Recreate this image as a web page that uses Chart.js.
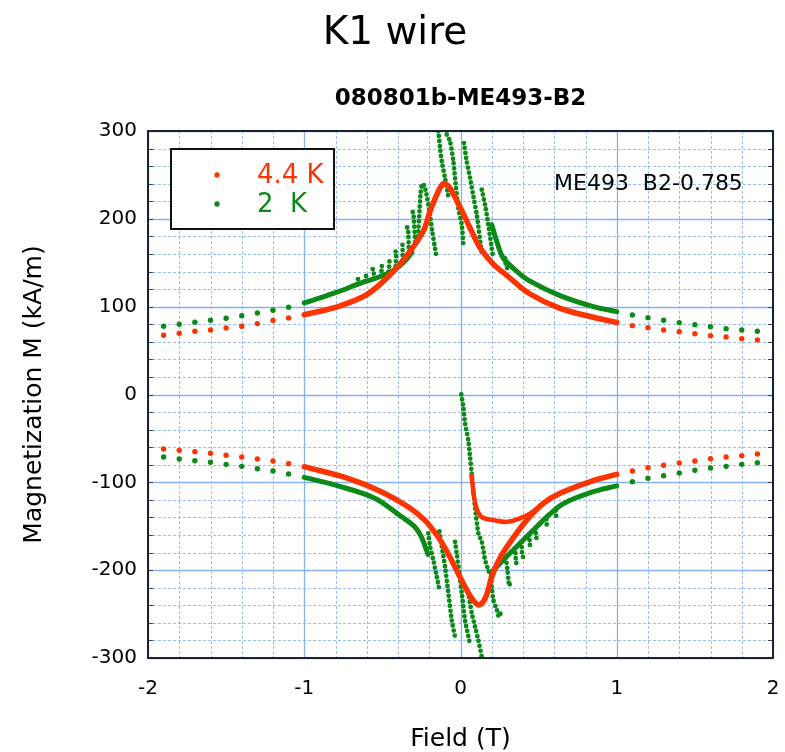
<!DOCTYPE html>
<html>
<head>
<meta charset="utf-8">
<title>K1 wire</title>
<script src="https://cdn.jsdelivr.net/npm/chart.js@4.4.1/dist/chart.umd.min.js"></script>
<style>
  html, body { margin: 0; padding: 0; background: #fff; }
  #wrap { width: 785px; height: 752px; }
</style>
</head>
<body>
<div id="wrap"><canvas id="chart" width="785" height="752"></canvas></div>
<script>
// field values of the sparse points outside +-1 T
const fieldLeft = [-1.9, -1.8, -1.7, -1.6, -1.5, -1.4, -1.3, -1.2, -1.1];
const fieldRight = [1.1, 1.2, 1.3, 1.4, 1.5, 1.6, 1.7, 1.8, 1.9];

// 4.4 K sparse points (kA/m)
const red44UpperLeft = [67.4, 69.7, 72.0, 73.5, 75.7, 77.7, 80.7, 84.2, 87.2];
const red44UpperRight = [78.4, 76.1, 73.5, 71.5, 69.2, 67.0, 65.5, 63.6, 62.1];
const red44LowerLeft = [-62.0, -63.6, -65.1, -66.9, -69.2, -71.2, -73.5, -75.7, -78.8];
const red44LowerRight = [-87.1, -83.4, -80.6, -78.0, -75.7, -73.1, -71.2, -69.7, -67.8];

// 2 K sparse points (kA/m)
const green2UpperLeft = [77.7, 80.0, 82.2, 84.5, 86.8, 89.8, 92.8, 95.9, 99.3];
const green2UpperRight = [90.5, 87.5, 84.5, 81.8, 79.5, 77.2, 75.0, 73.5, 72.0];
const green2LowerLeft = [-71.2, -73.5, -75.4, -77.2, -79.5, -81.8, -84.5, -87.1, -90.5];
const green2LowerRight = [-99.3, -95.4, -92.5, -89.4, -86.3, -83.7, -81.8, -79.5, -77.7];

// 4.4 K dense sweeps [field T, M kA/m]
const red44Upper = [[-1, 90.9], [-0.814, 98.5], [-0.6, 113.7], [-0.43, 140], [-0.323, 163], [-0.238, 186],
  [-0.195, 208.6], [-0.152, 227.6], [-0.125, 237], [-0.11, 240], [-0.09, 239], [-0.067, 235], [0, 212.3],
  [0.061, 189.6], [0.125, 167], [0.21, 148.5], [0.317, 132.6], [0.44, 115], [0.637, 98], [0.85, 88], [1.0, 82]];
const red44Lower = [[-1, -82.2], [-0.72, -95.5], [-0.507, -110.7], [-0.336, -127.8], [-0.229, -143],
  [-0.144, -162], [-0.08, -181], [-0.02, -202], [0.04, -222.7], [0.08, -234], [0.114, -239.5], [0.14, -237],
  [0.168, -228], [0.2, -207.5], [0.253, -186], [0.338, -163], [0.424, -143], [0.53, -124], [0.637, -112.5],
  [0.85, -98], [1.0, -91]];
const red44Virgin = [[0.07, -92], [0.078, -104], [0.09, -120], [0.11, -133], [0.14, -140], [0.21, -143],
  [0.3, -145], [0.38, -141], [0.45, -135], [0.53, -124]];

// 2 K dense sweeps
const green2UpperDenseLeft = [[-1, 104.2], [-0.805, 115.6], [-0.635, 127], [-0.507, 134.6], [-0.421, 142.1],
  [-0.357, 151.7], [-0.31, 162]];
const green2UpperDenseRight = [[0.2, 193.3], [0.232, 174.4], [0.274, 155.4], [0.36, 140.3], [0.445, 129],
  [0.637, 112.5], [0.85, 100], [1.0, 94.3]];
const green2LowerDenseLeft = [[-1, -94.3], [-0.805, -103], [-0.549, -118], [-0.379, -139], [-0.293, -150.6],
  [-0.251, -162], [-0.208, -182]];
const green2LowerDenseRight = [[0.195, -203], [0.274, -188.4], [0.338, -177], [0.402, -165.7], [0.488, -150.5],
  [0.573, -136], [0.66, -124], [0.85, -110.7], [1.0, -104]];

// 2 K flux jump traces (sparse dotted runs)
const green2Jumps = [
  [[-0.66, 126], [-0.655, 131], [-0.663, 133]],
  [[-0.61, 129], [-0.604, 136], [-0.613, 138]],
  [[-0.56, 132], [-0.553, 141], [-0.563, 143]],
  [[-0.51, 135], [-0.503, 146], [-0.515, 148]],
  [[-0.46, 140], [-0.455, 153], [-0.467, 155]],
  [[-0.415, 146], [-0.412, 162], [-0.425, 164]],
  [[-0.37, 153], [-0.372, 172], [-0.384, 174]],
  [[-0.33, 162], [-0.336, 189], [-0.347, 191]],
  [[-0.29, 174], [-0.302, 207], [-0.313, 209]],
  [[-0.272, 180], [-0.262, 210], [-0.255, 230], [-0.245, 240], [-0.232, 238], [-0.218, 228], [-0.2, 210],
    [-0.182, 187], [-0.157, 160]],
  [[-0.142, 300], [-0.131, 281], [-0.12, 265.5], [-0.099, 246.5], [-0.074, 221.5]],
  [[-0.088, 296], [-0.067, 288.3], [-0.046, 266], [-0.035, 246.5], [-0.014, 212.3], [0.008, 193.3], [0.018, 170.6]],
  [[0.022, 286.3], [0.04, 265], [0.061, 246.5], [0.083, 225], [0.104, 204.7], [0.136, 161.1]],
  [[0.136, 233.2], [0.157, 216.1], [0.178, 193.3], [0.206, 159.2]],
  [[0.285, 155], [0.29, 148], [0.298, 144], [0.305, 146]],
  [[-0.206, -158], [-0.195, -173], [-0.174, -188.5], [-0.152, -207.5], [-0.135, -222.7]],
  [[-0.135, -156], [-0.12, -173], [-0.099, -196], [-0.078, -226], [-0.056, -257], [-0.035, -276]],
  [[-0.035, -167.7], [-0.024, -181], [-0.008, -203.6], [0.008, -226], [0.029, -257], [0.062, -285]],
  [[0.005, 0], [0.018, -14], [0.029, -33], [0.05, -52], [0.061, -71], [0.072, -90], [0.082, -109], [0.093, -128],
    [0.114, -158], [0.136, -167.6], [0.146, -177], [0.157, -188.5], [0.178, -200], [0.195, -207], [0.2, -219],
    [0.21, -234], [0.232, -245], [0.245, -253], [0.255, -250], [0.26, -245]],
  [[0.054, -230.6], [0.072, -249], [0.093, -264.4], [0.114, -279.6], [0.136, -298.5]],
  [[0.29, -186], [0.3, -199], [0.306, -210], [0.312, -218], [0.318, -214]],
  [[0.35, -175], [0.355, -190], [0.362, -196]],
  [[0.39, -168], [0.394, -180], [0.4, -185]],
  [[0.44, -160], [0.444, -171], [0.45, -175]],
  [[0.48, -152], [0.484, -162], [0.49, -165]],
  [[0.55, -142], [0.553, -150], [0.56, -152]],
  [[0.61, -132], [0.613, -139], [0.62, -140]]
];

const RED = '#ff3300';
const GREEN = '#0b8a18';
const FONT = "'DejaVu Sans', Verdana, sans-serif";

const pairs = arr => arr.map(([x, y]) => ({ x, y }));
const zip = (xs, ys) => xs.map((x, i) => ({ x, y: ys[i] }));

const dots = (label, data, color, order) => ({
  label, data, order, showLine: false, clip: 0,
  pointRadius: 2.7, pointHoverRadius: 2.7, pointBorderWidth: 0,
  backgroundColor: color, borderColor: color
});
const solid = (data, color, width, order) => ({
  data: pairs(data), order, showLine: true, clip: 0, pointRadius: 0,
  borderColor: color, borderWidth: width, tension: 0.35, borderCapStyle: 'round', borderJoinStyle: 'round'
});
const dotted = (data, color, order) => ({
  data: pairs(data), order, showLine: true, clip: 0, pointRadius: 0,
  borderColor: color, borderWidth: 4.8, borderDash: [0, 5], borderCapStyle: 'round', tension: 0.2
});

const datasets = [
  dots('4.4 K', [...zip(fieldLeft, red44UpperLeft), ...zip(fieldRight, red44UpperRight),
    ...zip(fieldLeft, red44LowerLeft), ...zip(fieldRight, red44LowerRight)], RED, 0),
  dots('2  K', [...zip(fieldLeft, green2UpperLeft), ...zip(fieldRight, green2UpperRight),
    ...zip(fieldLeft, green2LowerLeft), ...zip(fieldRight, green2LowerRight)], GREEN, 1),
  solid(red44Upper, RED, 5.5, 0),
  solid(red44Lower, RED, 5.5, 0),
  solid(red44Virgin, RED, 4.5, 0),
  solid(green2UpperDenseLeft, GREEN, 5, 1),
  solid(green2UpperDenseRight, GREEN, 5, 1),
  solid(green2LowerDenseLeft, GREEN, 5, 1),
  solid(green2LowerDenseRight, GREEN, 5, 1),
  ...green2Jumps.map(run => dotted(run, GREEN, 1))
];

const decor = {
  id: 'decor',
  beforeDraw(chart) {
    const { ctx, width, height } = chart;
    ctx.save();
    ctx.fillStyle = '#fff';
    ctx.fillRect(0, 0, width, height);
    ctx.restore();
  },
  beforeDatasetsDraw(chart) {
    const { ctx, chartArea: a, scales: { x, y } } = chart;
    ctx.save();
    // minor grid, dashed
    ctx.lineWidth = 1;
    ctx.strokeStyle = 'rgba(120,170,245,0.75)';
    ctx.setLineDash([3, 2]);
    for (let k = -10; k <= 10; k++) {
      if (k % 5 === 0) continue;
      const px = Math.round(x.getPixelForValue(k / 5)) + 0.5;
      ctx.beginPath(); ctx.moveTo(px, a.top); ctx.lineTo(px, a.bottom); ctx.stroke();
    }
    for (let k = -15; k <= 15; k++) {
      if (k % 5 === 0) continue;
      const py = Math.round(y.getPixelForValue(k * 20)) + 0.5;
      ctx.beginPath(); ctx.moveTo(a.left, py); ctx.lineTo(a.right, py); ctx.stroke();
    }
    // major grid, solid
    ctx.setLineDash([]);
    ctx.strokeStyle = '#86b1f2';
    ctx.lineWidth = 1.3;
    for (let v = -2; v <= 2; v++) {
      const px = Math.round(x.getPixelForValue(v)) + 0.5;
      ctx.beginPath(); ctx.moveTo(px, a.top); ctx.lineTo(px, a.bottom); ctx.stroke();
    }
    for (let v = -300; v <= 300; v += 100) {
      const py = Math.round(y.getPixelForValue(v)) + 0.5;
      ctx.beginPath(); ctx.moveTo(a.left, py); ctx.lineTo(a.right, py); ctx.stroke();
    }
    ctx.restore();
  },
  afterDatasetsDraw(chart) {
    const { ctx, chartArea: a, scales: { y } } = chart;
    ctx.save();
    // inner ticks on left and right
    ctx.strokeStyle = '#3a4050';
    ctx.lineWidth = 1;
    for (let k = -15; k <= 15; k++) {
      const py = Math.round(y.getPixelForValue(k * 20)) + 0.5;
      ctx.beginPath();
      ctx.moveTo(a.left, py); ctx.lineTo(a.left + 5, py);
      ctx.moveTo(a.right, py); ctx.lineTo(a.right - 5, py);
      ctx.stroke();
    }
    // frame
    ctx.strokeStyle = '#1b2131';
    ctx.lineWidth = 2;
    ctx.strokeRect(a.left, a.top, a.right - a.left, a.bottom - a.top);

    // legend box
    ctx.fillStyle = '#fff';
    ctx.fillRect(171, 149, 163, 80);
    ctx.strokeStyle = '#111';
    ctx.lineWidth = 2;
    ctx.strokeRect(171, 149, 163, 80);
    const items = chart.data.datasets.slice(0, 2);
    items.forEach((ds, i) => {
      const cy = 175 + i * 29;
      ctx.fillStyle = ds.backgroundColor;
      ctx.beginPath(); ctx.arc(217, cy, 2.7, 0, Math.PI * 2); ctx.fill();
      ctx.font = '26px ' + FONT;
      ctx.textBaseline = 'middle';
      ctx.textAlign = 'left';
      ctx.fillText(ds.label, 257, cy + 1);
    });

    // texts
    ctx.fillStyle = '#000';
    ctx.textBaseline = 'alphabetic';
    ctx.textAlign = 'left';
    ctx.font = '22px ' + FONT;
    ctx.fillText('ME493  B2-0.785', 554, 190);

    ctx.textAlign = 'center';
    ctx.font = '39px ' + FONT;
    ctx.fillText('K1 wire', 395, 44);
    ctx.font = 'bold 23px ' + FONT;
    ctx.fillText('080801b-ME493-B2', (a.left + a.right) / 2, 105);
    ctx.font = '25px ' + FONT;
    ctx.fillText('Field (T)', (a.left + a.right) / 2, 746);

    ctx.translate(34, (a.top + a.bottom) / 2);
    ctx.rotate(-Math.PI / 2);
    ctx.textBaseline = 'middle';
    ctx.fillText('Magnetization M (kA/m)', 0, 0);
    ctx.restore();
  }
};

new Chart(document.getElementById('chart'), {
  type: 'scatter',
  data: { datasets },
  options: {
    responsive: false,
    animation: false,
    devicePixelRatio: 1,
    layout: { padding: { top: 131, right: 12, left: 0, bottom: 0 } },
    plugins: { legend: { display: false }, tooltip: { enabled: false }, title: { display: false } },
    scales: {
      x: {
        type: 'linear', min: -2, max: 2,
        grid: { display: false, drawTicks: false },
        border: { display: false },
        ticks: { stepSize: 1, color: '#000', padding: 19, maxRotation: 0, font: { family: FONT, size: 20 } },
        afterFit(scale) { scale.height = 94; scale.paddingLeft = 0; scale.paddingRight = 0; }
      },
      y: {
        type: 'linear', min: -300, max: 300,
        grid: { display: false, drawTicks: false },
        border: { display: false },
        ticks: { stepSize: 100, color: '#000', padding: 11, font: { family: FONT, size: 20 } },
        afterFit(scale) { scale.width = 148; scale.paddingTop = 0; scale.paddingBottom = 0; }
      }
    }
  },
  plugins: [decor]
});
</script>
</body>
</html>
